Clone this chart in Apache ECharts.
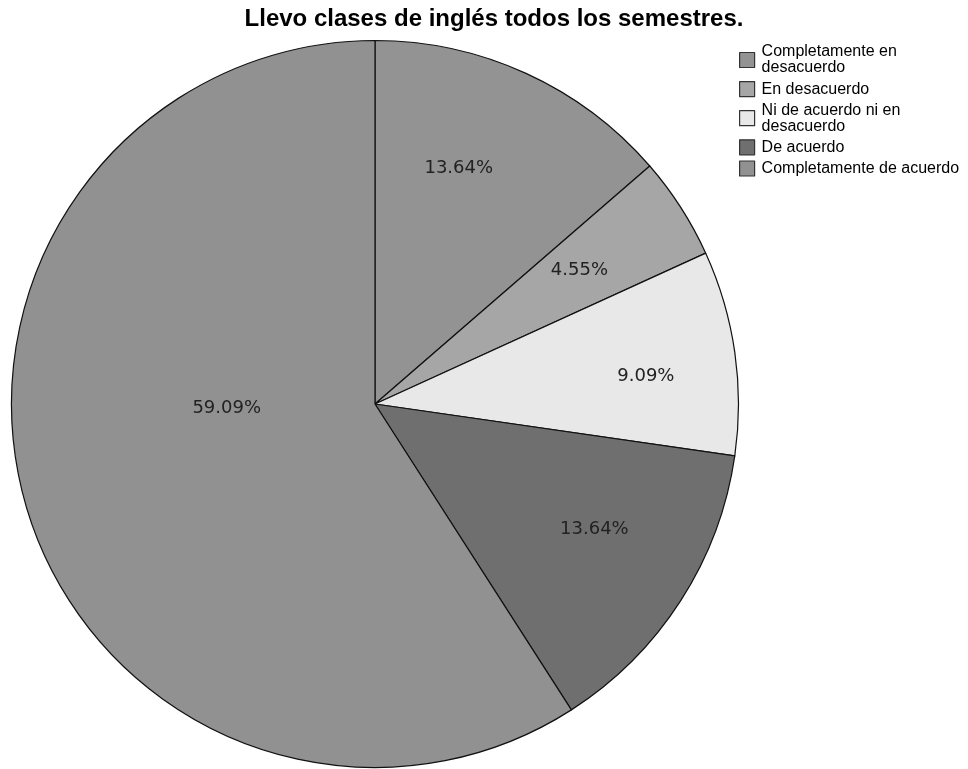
<!DOCTYPE html>
<html>
<head>
<meta charset="utf-8">
<script src="https://cdn.jsdelivr.net/npm/echarts@6/dist/echarts.min.js"></script>
<style>
html,body{margin:0;padding:0;background:#fff;}
#chart{width:968px;height:769px;}
</style>
</head>
<body>
<div id="chart"></div>
<script>
// Data
var titleText = 'Llevo clases de inglés todos los semestres.';
var categories = ['Completamente en\ndesacuerdo', 'En desacuerdo', 'Ni de acuerdo ni en\ndesacuerdo', 'De acuerdo', 'Completamente de acuerdo'];
var percents = [13.64, 4.55, 9.09, 13.64, 59.09];

// Styles
var sliceColors = ['#939393', '#a6a6a6', '#e8e8e8', '#6f6f6f', '#919191'];
var labelOffsets = [[7, -68], [49, -34], [88, -1], [64, 25], [29, -48]];

var chart = echarts.init(document.getElementById('chart'), null, {renderer: 'canvas'});
var seriesData = categories.map(function (c, i) {
  return {
    name: c,
    value: percents[i],
    itemStyle: {color: sliceColors[i]},
    label: {offset: labelOffsets[i]}
  };
});

chart.setOption({
  animation: false,
  backgroundColor: '#ffffff',
  title: {
    text: titleText,
    left: 489,
    textAlign: 'center',
    top: 2,
    textStyle: {fontFamily: 'Liberation Sans, Arial, sans-serif', fontWeight: 'bold', fontSize: 24, color: '#000'}
  },
  legend: {
    orient: 'vertical',
    left: 739,
    top: 44,
    padding: 0,
    itemWidth: 15,
    itemHeight: 15,
    itemGap: 5,
    icon: 'rect',
    selectedMode: false,
    itemStyle: {borderColor: '#333', borderWidth: 1.2},
    textStyle: {fontFamily: 'Liberation Sans, Arial, sans-serif', fontSize: 16, lineHeight: 16, color: '#000', padding: [0, 0, 0, 2]},
    data: categories
  },
  series: [{
    type: 'pie',
    center: [375, 404],
    radius: [0, 363.5],
    startAngle: 90,
    clockwise: true,
    avoidLabelOverlap: false,
    silent: true,
    itemStyle: {borderColor: '#111', borderWidth: 1.2},
    label: {
      show: true,
      position: 'inner',
      formatter: function (p) { return p.value.toFixed(2) + '%'; },
      fontFamily: 'DejaVu Sans, sans-serif',
      fontSize: 18,
      color: '#222'
    },
    labelLine: {show: false},
    emphasis: {disabled: true},
    data: seriesData
  }]
});
</script>
</body>
</html>
